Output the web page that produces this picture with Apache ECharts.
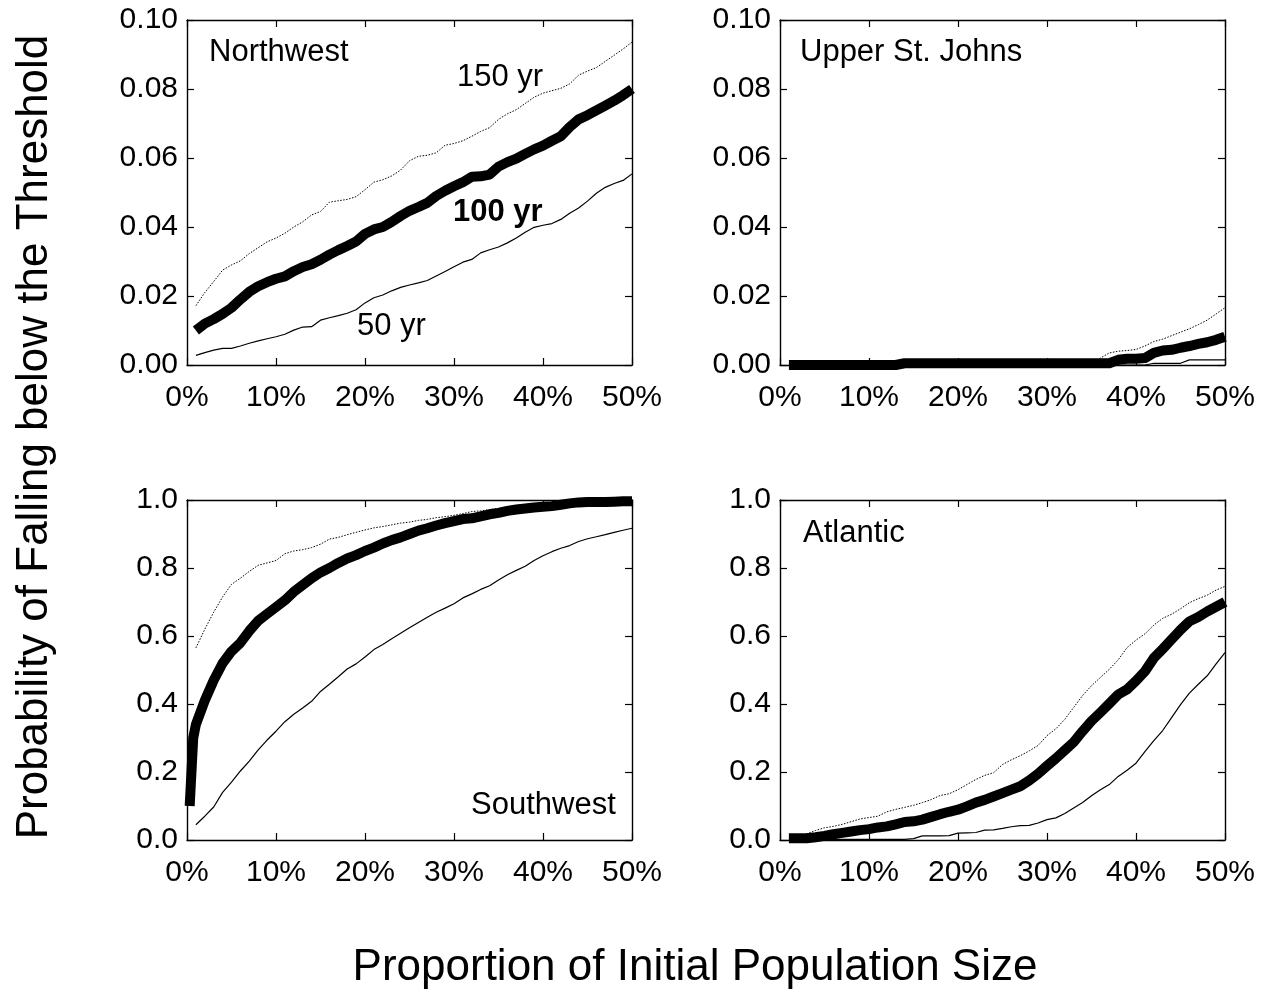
<!DOCTYPE html>
<html>
<head>
<meta charset="utf-8">
<script src="https://cdn.jsdelivr.net/npm/echarts@6/dist/echarts.min.js"></script>
<style>
html,body{margin:0;padding:0;background:#fff;}
#chart{width:1270px;height:991px;}
</style>
</head>
<body>
<div id="chart"></div>
<script>
// x positions: percent of initial population size
const PCT = [1,2,3,4,5,6,7,8,9,10,11,12,13,14,15,16,17,18,19,20,21,22,23,24,25,26,27,28,29,30,31,32,33,34,35,36,37,38,39,40,41,42,43,44,45,46,47,48,49,50];
const X_TICKS = [0,10,20,30,40,50];

// Northwest
const nw50 = [0.0028,0.0036,0.0043,0.0048,0.0048,0.0055,0.0063,0.0070,0.0076,0.0082,0.0089,0.0101,0.0110,0.0111,0.0130,0.0137,0.0143,0.0150,0.0160,0.0180,0.0195,0.0203,0.0215,0.0225,0.0232,0.0238,0.0245,0.0258,0.0271,0.0285,0.0298,0.0306,0.0325,0.0334,0.0342,0.0354,0.0368,0.0385,0.0399,0.0405,0.0410,0.0422,0.0440,0.0455,0.0475,0.0498,0.0515,0.0526,0.0535,0.0554];
const nw100 = [0.0100,0.0120,0.0133,0.0148,0.0166,0.0190,0.0212,0.0228,0.0240,0.0250,0.0257,0.0272,0.0284,0.0292,0.0305,0.0320,0.0333,0.0345,0.0358,0.0380,0.0393,0.0400,0.0415,0.0432,0.0447,0.0458,0.0470,0.0490,0.0505,0.0518,0.0530,0.0546,0.0547,0.0552,0.0575,0.0588,0.0598,0.0612,0.0625,0.0636,0.0650,0.0663,0.0690,0.0712,0.0724,0.0738,0.0752,0.0766,0.0782,0.0800];
const nw150 = [0.0172,0.0210,0.0242,0.0275,0.0290,0.0302,0.0323,0.0340,0.0357,0.0368,0.0382,0.0400,0.0415,0.0435,0.0445,0.0472,0.0476,0.0480,0.0488,0.0508,0.0530,0.0537,0.0548,0.0565,0.0592,0.0605,0.0608,0.0615,0.0637,0.0642,0.0650,0.0663,0.0677,0.0688,0.0712,0.0728,0.0740,0.0758,0.0776,0.0788,0.0795,0.0802,0.0815,0.0840,0.0852,0.0862,0.0880,0.0898,0.0916,0.0936];

// Upper St. Johns
const usj50 = [0,0,0,0,0,0,0,0,0,0,0,0,0,0,0,0,0,0,0,0,0,0,0,0,0,0,0,0,0,0,0,0,0,0,0,0,0,0,0,0,0,0.0005,0.0005,0.0005,0.0005,0.0015,0.0015,0.0015,0.0015,0.0015];
const usj100 = [0,0,0,0,0,0,0,0,0,0,0,0,0,0.0005,0.0005,0.0005,0.0005,0.0005,0.0005,0.0005,0.0005,0.0005,0.0005,0.0005,0.0005,0.0005,0.0005,0.0005,0.0005,0.0005,0.0005,0.0005,0.0005,0.0005,0.0005,0.0005,0.0005,0.0015,0.0018,0.0018,0.0020,0.0035,0.0042,0.0044,0.0050,0.0055,0.0061,0.0066,0.0073,0.0082];
const usj150 = [0,0,0,0,0,0,0,0,0,0,0,0,0,0.0005,0.0005,0.0005,0.0005,0.0005,0.0005,0.0005,0.0005,0.0005,0.0005,0.0005,0.0005,0.0005,0.0005,0.0005,0.0005,0.0005,0.0005,0.0005,0.0005,0.0005,0.0005,0.0020,0.0035,0.0040,0.0042,0.0045,0.0055,0.0068,0.0075,0.0085,0.0095,0.0105,0.0117,0.0130,0.0148,0.0166];

// Southwest
const swStartX = [0.3, 0.7];
const swStart100 = [0.10, 0.30];
const sw50 = [0.045,0.070,0.097,0.140,0.170,0.203,0.232,0.265,0.294,0.320,0.348,0.370,0.388,0.408,0.437,0.458,0.480,0.503,0.518,0.538,0.560,0.575,0.592,0.608,0.624,0.640,0.655,0.670,0.682,0.695,0.712,0.724,0.737,0.748,0.765,0.780,0.793,0.805,0.822,0.836,0.848,0.858,0.866,0.878,0.886,0.892,0.898,0.905,0.911,0.917];
const sw100 = [0.34,0.41,0.47,0.52,0.555,0.58,0.615,0.645,0.665,0.685,0.705,0.73,0.75,0.77,0.787,0.80,0.815,0.828,0.838,0.850,0.86,0.872,0.882,0.89,0.90,0.91,0.917,0.925,0.932,0.938,0.944,0.946,0.952,0.958,0.962,0.968,0.972,0.975,0.978,0.980,0.982,0.986,0.99,0.993,0.994,0.994,0.994,0.995,0.996,0.996];
const sw150 = [0.565,0.62,0.67,0.715,0.752,0.77,0.79,0.808,0.815,0.822,0.842,0.85,0.854,0.86,0.87,0.885,0.89,0.898,0.905,0.912,0.918,0.922,0.927,0.932,0.935,0.94,0.943,0.948,0.951,0.955,0.96,0.966,0.968,0.972,0.975,0.979,0.981,0.982,0.984,0.986,0.987,0.988,0.99,0.992,0.993,0.995,0.996,0.996,0.997,0.997];

// Atlantic
const at50 = [0.002,0.002,0.002,0.002,0.002,0.002,0.002,0.002,0.002,0.002,0.002,0.002,0.002,0.002,0.004,0.012,0.012,0.012,0.013,0.020,0.021,0.022,0.029,0.030,0.034,0.039,0.042,0.043,0.050,0.060,0.065,0.078,0.094,0.110,0.130,0.148,0.163,0.187,0.205,0.226,0.260,0.292,0.322,0.360,0.398,0.432,0.458,0.483,0.518,0.551];
const at100 = [0.005,0.005,0.005,0.008,0.012,0.017,0.021,0.025,0.029,0.032,0.037,0.040,0.046,0.053,0.055,0.060,0.068,0.076,0.083,0.089,0.099,0.110,0.118,0.128,0.138,0.148,0.158,0.175,0.195,0.218,0.240,0.264,0.288,0.320,0.350,0.375,0.401,0.428,0.443,0.468,0.496,0.535,0.562,0.590,0.618,0.643,0.656,0.672,0.686,0.700];
const at150 = [0.006,0.010,0.018,0.028,0.036,0.040,0.046,0.054,0.062,0.066,0.070,0.083,0.090,0.096,0.102,0.110,0.119,0.131,0.136,0.148,0.163,0.178,0.190,0.198,0.222,0.236,0.248,0.262,0.278,0.307,0.327,0.355,0.390,0.425,0.454,0.478,0.502,0.530,0.566,0.588,0.606,0.632,0.652,0.664,0.680,0.698,0.710,0.720,0.735,0.746];

const TITLES = {x: 'Proportion of Initial Population Size', y: 'Probability of Falling below the Threshold'};
const PANEL_NAMES = ['Northwest', 'Upper St. Johns', 'Southwest', 'Atlantic'];
const LINE_LABELS = ['150 yr', '100 yr', '50 yr'];

const FONT = '"Liberation Sans", Arial, Helvetica, sans-serif';
const pair = (xs, ys) => xs.map((x, i) => [x, ys[i]]);

const grids = [
  {left: 187, top: 20, width: 445, height: 345},
  {left: 780, top: 20, width: 445, height: 345},
  {left: 187, top: 500, width: 445, height: 340},
  {left: 780, top: 500, width: 445, height: 340}
];
const yCfg = [
  {max: 0.1, interval: 0.02, dec: 2},
  {max: 0.1, interval: 0.02, dec: 2},
  {max: 1, interval: 0.2, dec: 1},
  {max: 1, interval: 0.2, dec: 1}
];

const axisLine = {show: true, onZero: false, lineStyle: {color: '#000', width: 1.4}};
const axisTick = {show: true, inside: true, length: 7, lineStyle: {color: '#000', width: 1.2}};
const labelStyle = {color: '#000', fontSize: 30, fontFamily: FONT};

const xAxes = [], yAxes = [];
grids.forEach((g, i) => {
  xAxes.push({type: 'value', gridIndex: i, position: 'bottom', min: 0, max: 50, interval: 10,
    axisLine, axisTick, splitLine: {show: false},
    axisLabel: Object.assign({margin: 18, formatter: v => v + '%'}, labelStyle)});
  xAxes.push({type: 'value', gridIndex: i, position: 'top', min: 0, max: 50, interval: 10,
    axisLine, axisTick, splitLine: {show: false}, axisLabel: {show: false}});
  const c = yCfg[i];
  yAxes.push({type: 'value', gridIndex: i, position: 'left', min: 0, max: c.max, interval: c.interval,
    axisLine, axisTick, splitLine: {show: false},
    axisLabel: Object.assign({margin: 9, formatter: v => v.toFixed(c.dec)}, labelStyle)});
  yAxes.push({type: 'value', gridIndex: i, position: 'right', min: 0, max: c.max, interval: c.interval,
    axisLine, axisTick, splitLine: {show: false}, axisLabel: {show: false}});
});

function mk(i, data, kind) {
  const styles = {
    y50: {color: '#000', width: 1.2, type: 'solid'},
    y150: {color: '#000', width: 1, type: [1.5, 1.5]},
    y100: {color: '#000', width: 10, type: 'solid', cap: 'butt', join: 'round'}
  };
  return {type: 'line', xAxisIndex: 2 * i, yAxisIndex: 2 * i, data, showSymbol: false, symbol: 'none',
    lineStyle: styles[kind], clip: false, animation: false, silent: true, z: kind === 'y100' ? 5 : 3};
}

const series = [
  mk(0, pair(PCT, nw50), 'y50'), mk(0, pair(PCT, nw150), 'y150'), mk(0, pair(PCT, nw100), 'y100'),
  mk(1, pair(PCT, usj50), 'y50'), mk(1, pair(PCT, usj150), 'y150'), mk(1, pair(PCT, usj100), 'y100'),
  mk(2, pair(PCT, sw50), 'y50'), mk(2, pair(PCT, sw150), 'y150'),
  mk(2, pair(swStartX, swStart100).concat(pair(PCT, sw100)), 'y100'),
  mk(3, pair(PCT, at50), 'y50'), mk(3, pair(PCT, at150), 'y150'), mk(3, pair(PCT, at100), 'y100')
];

function txt(text, x, y, opts) {
  return {type: 'text', x, y, z: 10, silent: true,
    style: Object.assign({text, fill: '#000', font: '31px ' + FONT, textAlign: 'left', textVerticalAlign: 'middle'}, opts || {})};
}

const graphic = [
  txt(PANEL_NAMES[0], 209, 52),
  txt(PANEL_NAMES[1], 800, 52),
  txt(PANEL_NAMES[2], 471, 805),
  txt(PANEL_NAMES[3], 803, 533),
  txt(LINE_LABELS[0], 457, 77),
  txt(LINE_LABELS[1], 453, 212, {font: 'bold 31px ' + FONT}),
  txt(LINE_LABELS[2], 357, 326),
  txt(TITLES.x, 695, 968, {font: '44px ' + FONT, textAlign: 'center'}),
  {type: 'text', x: 35, y: 437, rotation: Math.PI / 2, z: 10, silent: true,
    style: {text: TITLES.y, fill: '#000', font: '44px ' + FONT, textAlign: 'center', textVerticalAlign: 'middle'}}
];

const chart = echarts.init(document.getElementById('chart'), null, {renderer: 'canvas'});
chart.setOption({
  backgroundColor: '#fff',
  animation: false,
  grid: grids,
  xAxis: xAxes,
  yAxis: yAxes,
  series,
  graphic
});
</script>
</body>
</html>
